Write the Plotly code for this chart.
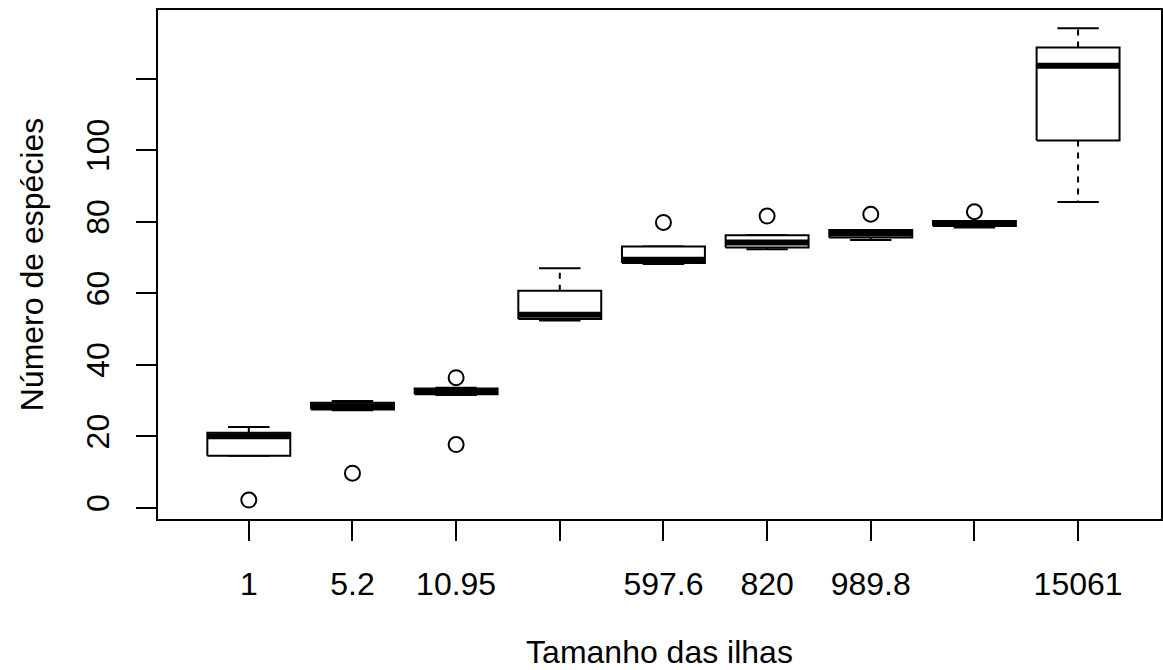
import plotly.graph_objects as go

# ---- data ----
tick_labels = ["1", "5.2", "10.95", "", "597.6", "820", "989.8", "", "15061"]
lower_whisker = [14.6, 27.3, 31.6, 52.4, 68.2, 72.3, 74.9, 78.4, 85.5]
q1 = [14.6, 27.5, 31.8, 52.8, 68.5, 72.8, 75.6, 78.8, 102.7]
median = [20.0, 28.4, 32.6, 54.0, 69.4, 74.2, 76.7, 79.6, 123.6]
q3 = [21.0, 29.4, 33.4, 60.7, 73.1, 76.2, 77.7, 80.2, 128.7]
upper_whisker = [22.6, 29.9, 33.6, 67.0, 73.1, 76.2, 77.7, 80.2, 134.1]
outliers = [[2.2], [9.7], [36.4, 17.7], [], [79.8], [81.6], [82.1], [82.8], []]

y_ticks = [0, 20, 40, 60, 80, 100, 120]
y_ticktext = ["0", "20", "40", "60", "80", "100", ""]

FONT = "Liberation Sans, Arial, Helvetica, sans-serif"
BW = 0.4   # half box width
CW = 0.2   # half cap width

positions = list(range(1, len(tick_labels) + 1))

wx, wy = [], []
bx, by = [], []
mx, my = [], []
cx, cy = [], []
ox, oy = [], []
for i, p in enumerate(positions):
    # whiskers
    if upper_whisker[i] > q3[i]:
        wx += [p, p, None]; wy += [q3[i], upper_whisker[i], None]
    if lower_whisker[i] < q1[i]:
        wx += [p, p, None]; wy += [q1[i], lower_whisker[i], None]
    # caps
    cx += [p - CW, p + CW, None, p - CW, p + CW, None]
    cy += [upper_whisker[i], upper_whisker[i], None, lower_whisker[i], lower_whisker[i], None]
    # box
    bx += [p - BW, p + BW, p + BW, p - BW, p - BW, None]
    by += [q1[i], q1[i], q3[i], q3[i], q1[i], None]
    # median
    mx += [p - BW, p + BW, None]; my += [median[i], median[i], None]
    for v in outliers[i]:
        ox.append(p); oy.append(v)

fig = go.Figure()
fig.add_trace(go.Scatter(x=wx, y=wy, mode="lines", line=dict(color="black", width=2, dash="6px,6px"),
                         hoverinfo="skip", showlegend=False))
fig.add_trace(go.Scatter(x=cx, y=cy, mode="lines", line=dict(color="black", width=2),
                         hoverinfo="skip", showlegend=False))
fig.add_trace(go.Scatter(x=bx, y=by, mode="lines", fill="toself", fillcolor="white",
                         line=dict(color="black", width=2), hoverinfo="skip", showlegend=False))
fig.add_trace(go.Scatter(x=mx, y=my, mode="lines", line=dict(color="black", width=6),
                         hoverinfo="skip", showlegend=False))
fig.add_trace(go.Scatter(x=ox, y=oy, mode="markers",
                         marker=dict(symbol="circle-open", size=15, color="black", line=dict(width=2)),
                         hoverinfo="skip", showlegend=False))

fig.update_layout(
    width=1163, height=670,
    margin=dict(l=158, r=0, t=10, b=151, pad=0),
    paper_bgcolor="white", plot_bgcolor="white",
    font=dict(family=FONT, size=32, color="black"),
    showlegend=False,
)
fig.update_xaxes(
    range=[0.124, 9.80], tickmode="array", tickvals=positions, ticktext=tick_labels,
    ticks="outside", ticklen=20, tickwidth=2, tickcolor="black",
    showline=True, linewidth=2, linecolor="black", mirror=True,
    showgrid=False, zeroline=False, ticklabelstandoff=16,
    tickfont=dict(family=FONT, size=32, color="black"),
    title=dict(text="Tamanho das ilhas", font=dict(family=FONT, size=32, color="black"), standoff=44),
)
fig.update_yaxes(
    range=[-3.1, 139.2], tickmode="array", tickvals=y_ticks, ticktext=y_ticktext,
    tickangle=-90, ticks="outside", ticklen=20, tickwidth=2, tickcolor="black",
    showline=True, linewidth=2, linecolor="black", mirror=True,
    showgrid=False, zeroline=False, ticklabelstandoff=14,
    tickfont=dict(family=FONT, size=32, color="black"),
    title=dict(text="Número de espécies", font=dict(family=FONT, size=32, color="black"), standoff=27),
)

fig.write_html("out.html")
